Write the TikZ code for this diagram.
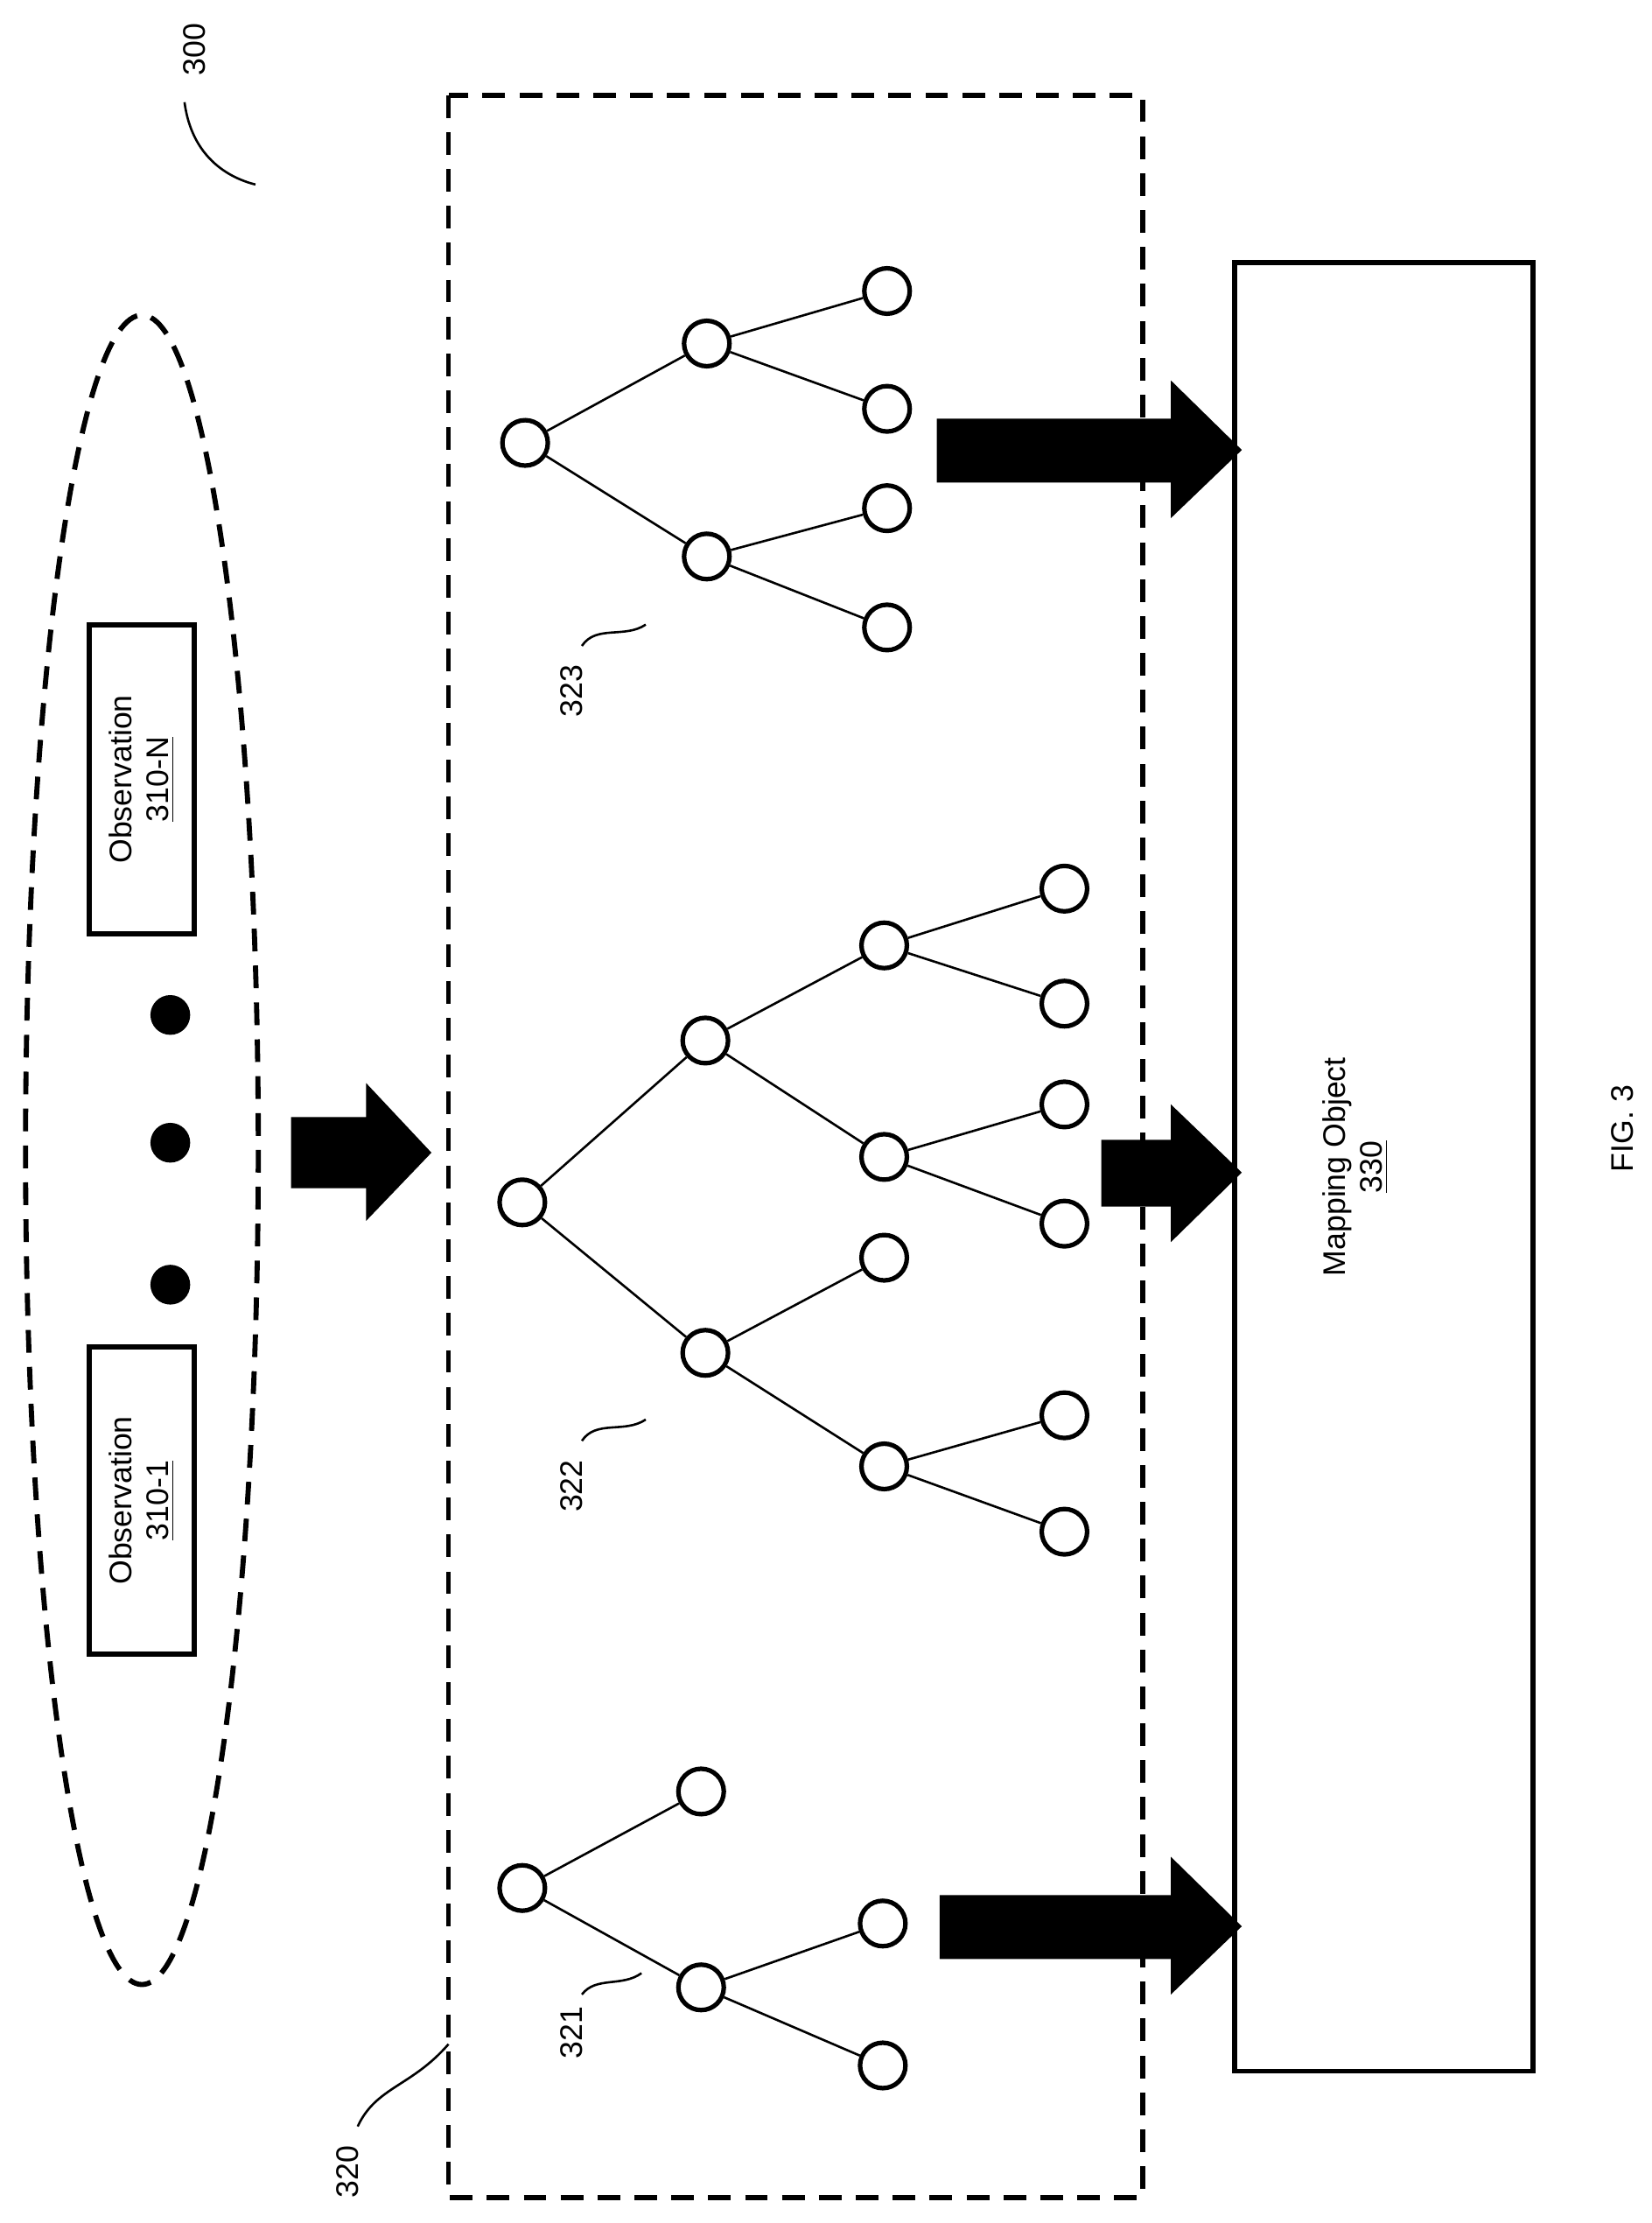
\documentclass[tikz,border=0pt]{standalone}
\usepackage{fontspec}
\setmainfont{Liberation Sans}
\usetikzlibrary{shapes.geometric}
\begin{document}
\begin{tikzpicture}[x=0.5pt,y=-0.5pt,
  dsh/.style={line width=1.8pt,dash pattern=on 8pt off 5pt},
  nd/.style={circle,draw,line width=1.6pt,minimum size=16pt,inner sep=0pt,fill=white},
  ln/.style={line width=0.8pt},
  box/.style={draw,line width=1.8pt,inner sep=0pt},
  txt/.style={font=\fontsize{11}{13}\selectfont,rotate=90,align=center},
  lbl/.style={font=\fontsize{11}{13}\selectfont,rotate=90},
  dot/.style={circle,fill=black,minimum size=14pt,inner sep=0pt},
  fat/.style={fill=black}]
\useasboundingbox (0,0) rectangle (1164,1566);
% outer containers
\draw[dsh] (316,67) rectangle (805,1548);
\draw[dsh] (100,810) ellipse [x radius=82,y radius=588];
% observations
\node[box,minimum width=37pt,minimum height=109pt] (o2) at (100,549) {};
\node[txt] at (o2) {Observation\\\underline{310-N}};
\node[box,minimum width=37pt,minimum height=108pt] (o1) at (100,1057) {};
\node[txt] at (o1) {Observation\\\underline{310-1}};
\node[dot] (d1) at (120,715) {};
\node[dot] (d2) at (120,805) {};
\node[dot] (d3) at (120,905) {};
% input arrow
\fill[fat] (205,787) -- (258,787) -- (258,763) -- (304,812) -- (258,860) -- (258,837) -- (205,837) -- cycle;
% mapping object
\node[box,minimum width=105pt,minimum height=637pt] (map) at (975,822) {};
\node[txt] at (955,822) {Mapping Object\\\underline{330}};
\node[lbl] at (1143,795) {FIG. 3};
% tree 323
\node[nd] (a0) at (370,312) {};
\node[nd] (a1) at (498,242) {};
\node[nd] (a2) at (498,392) {};
\node[nd] (a3) at (625,205) {};
\node[nd] (a4) at (625,288) {};
\node[nd] (a5) at (625,358) {};
\node[nd] (a6) at (625,442) {};
\foreach \p/\c in {a0/a1,a0/a2,a1/a3,a1/a4,a2/a5,a2/a6} \draw[ln] (\p) -- (\c);
% tree 322
\node[nd] (b0) at (368,847) {};
\node[nd] (b1) at (497,733) {};
\node[nd] (b2) at (497,953) {};
\node[nd] (b3) at (623,666) {};
\node[nd] (b4) at (623,815) {};
\node[nd] (b5) at (623,886) {};
\node[nd] (b6) at (623,1033) {};
\node[nd] (b7) at (750,626) {};
\node[nd] (b8) at (750,707) {};
\node[nd] (b9) at (750,778) {};
\node[nd] (b10) at (750,862) {};
\node[nd] (b11) at (750,997) {};
\node[nd] (b12) at (750,1079) {};
\foreach \p/\c in {b0/b1,b0/b2,b1/b3,b1/b4,b2/b5,b2/b6,b3/b7,b3/b8,b4/b9,b4/b10,b6/b11,b6/b12} \draw[ln] (\p) -- (\c);
% tree 321
\node[nd] (c0) at (368,1330) {};
\node[nd] (c1) at (494,1262) {};
\node[nd] (c2) at (494,1400) {};
\node[nd] (c3) at (622,1355) {};
\node[nd] (c4) at (622,1455) {};
\foreach \p/\c in {c0/c1,c0/c2,c2/c3,c2/c4} \draw[ln] (\p) -- (\c);
% output arrows
\fill[fat] (660,295) -- (825,295) -- (825,268) -- (875,317) -- (825,365) -- (825,340) -- (660,340) -- cycle;
\fill[fat] (776,803) -- (825,803) -- (825,778) -- (875,826) -- (825,875) -- (825,850) -- (776,850) -- cycle;
\fill[fat] (662,1335) -- (825,1335) -- (825,1308) -- (875,1357) -- (825,1405) -- (825,1380) -- (662,1380) -- cycle;
% reference labels
\node[lbl] (l300) at (137,35) {300};
\coordinate (s300) at (180,130);
\draw[ln] (130,72) .. controls (135,110) and (160,125) .. (s300);
\node[lbl] (l323) at (403,487) {323};
\draw[ln] (410,455) .. controls (420,440) and (440,450) .. (455,440);
\node[lbl] (l322) at (403,1047) {322};
\draw[ln] (410,1015) .. controls (420,1000) and (440,1010) .. (455,1000);
\node[lbl] (l321) at (403,1432) {321};
\draw[ln] (410,1405) .. controls (420,1392) and (438,1400) .. (452,1390);
\node[lbl] (l320) at (245,1530) {320};
\draw[ln] (252,1498) .. controls (265,1470) and (290,1470) .. (316,1440);
\end{tikzpicture}
\end{document}
